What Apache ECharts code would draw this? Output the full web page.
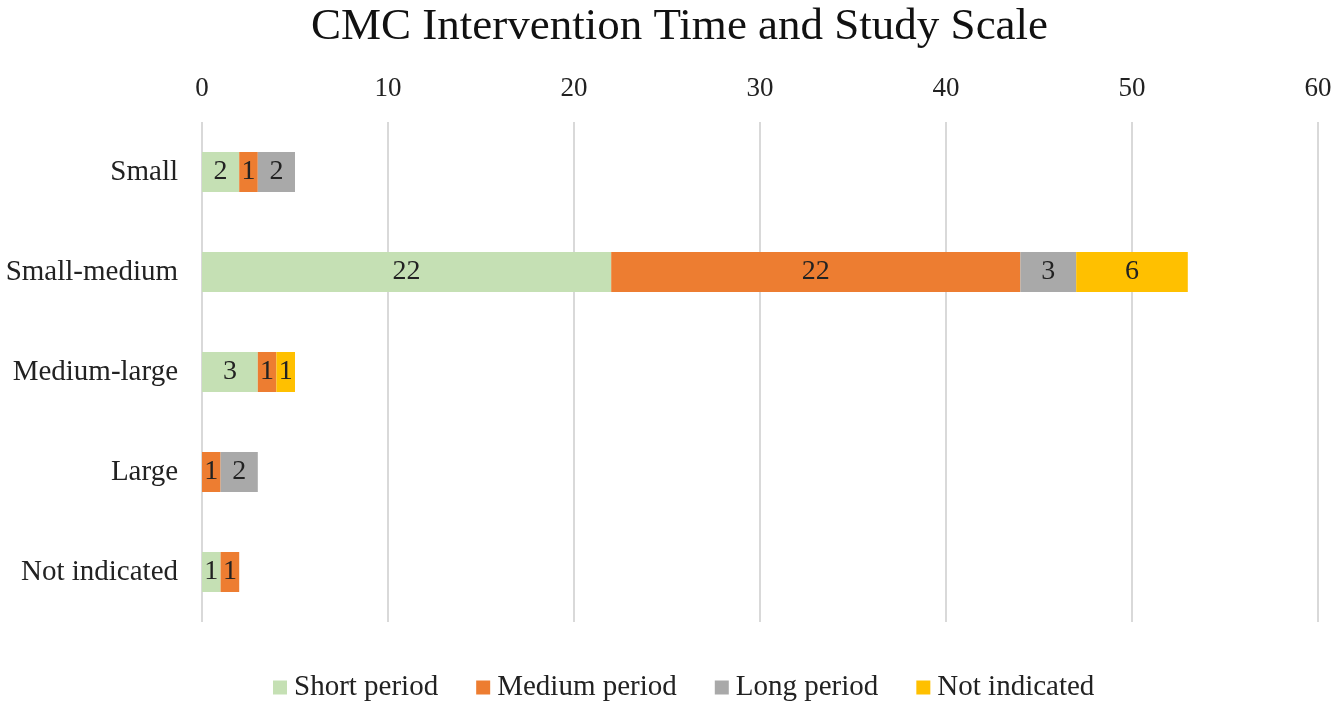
<!DOCTYPE html>
<html>
<head>
<meta charset="utf-8">
<script src="https://cdn.jsdelivr.net/npm/echarts@6/dist/echarts.min.js"></script>
<style>
    html, body {margin: 0; padding: 0; background: #fff;}
    #bar_chart {width: 1338px; height: 705px;}
</style>
</head>
<body>
<div id="bar_chart"></div>
<script>
    const categories = ["Small", "Small-medium", "Medium-large", "Large", "Not indicated"]
    const short_period = [2, 22, 3, 0, 1]
    const medium_period = [1, 22, 1, 1, 1]
    const long_period = [2, 3, 0, 2, 0]
    const not_indicated = [0, 6, 1, 0, 0]
    const x_ticks = [0, 10, 20, 30, 40, 50, 60]

    const series_names = ["Short period", "Medium period", "Long period", "Not indicated"]
    const series_colors = ["#C5E0B4", "#ED7D31", "#A9A9A9", "#FFC000"]
    const series_values = [short_period, medium_period, long_period, not_indicated]

    const font_name = "Liberation Serif"

    let bar_chart = echarts.init(document.getElementById("bar_chart"))

    let bar_chart_option = {
        animation: false,
        title: {
            text: 'CMC Intervention Time and Study Scale',
            left: 306,
            top: 0,
            textStyle: {fontFamily: font_name, fontSize: 45, fontWeight: 'normal', color: '#111'}
        },
        grid: {left: 202, right: 20, top: 122, bottom: 83},
        legend: {
            left: 268,
            bottom: -2,
            itemWidth: 14,
            itemHeight: 14,
            itemGap: 38,
            icon: 'rect',
            textStyle: {fontFamily: font_name, fontSize: 29, color: '#222', padding: [0, 0, 0, 2]},
            data: series_names
        },
        xAxis: {
            type: 'value',
            position: 'top',
            min: x_ticks[0],
            max: x_ticks[x_ticks.length - 1],
            interval: 10,
            axisLine: {show: false},
            axisTick: {show: false},
            axisLabel: {fontFamily: font_name, fontSize: 27, color: '#222', margin: 20},
            splitLine: {lineStyle: {color: '#D9D9D9', width: 2}}
        },
        yAxis: {
            type: 'category',
            inverse: true,
            data: categories,
            axisLine: {show: false},
            axisTick: {show: false},
            axisLabel: {fontFamily: font_name, fontSize: 29, color: '#222', margin: 24}
        },
        series: series_names.map((name, index) => {
            return {
                name: name,
                type: 'bar',
                stack: 'total',
                barWidth: 40,
                itemStyle: {color: series_colors[index]},
                label: {
                    show: true,
                    position: 'inside',
                    fontFamily: font_name,
                    fontSize: 28,
                    color: '#222',
                    formatter: function (params) {
                        return params.value ? params.value : '';
                    }
                },
                data: series_values[index]
            }
        })
    };

    bar_chart.setOption(bar_chart_option);
</script>
</body>
</html>
